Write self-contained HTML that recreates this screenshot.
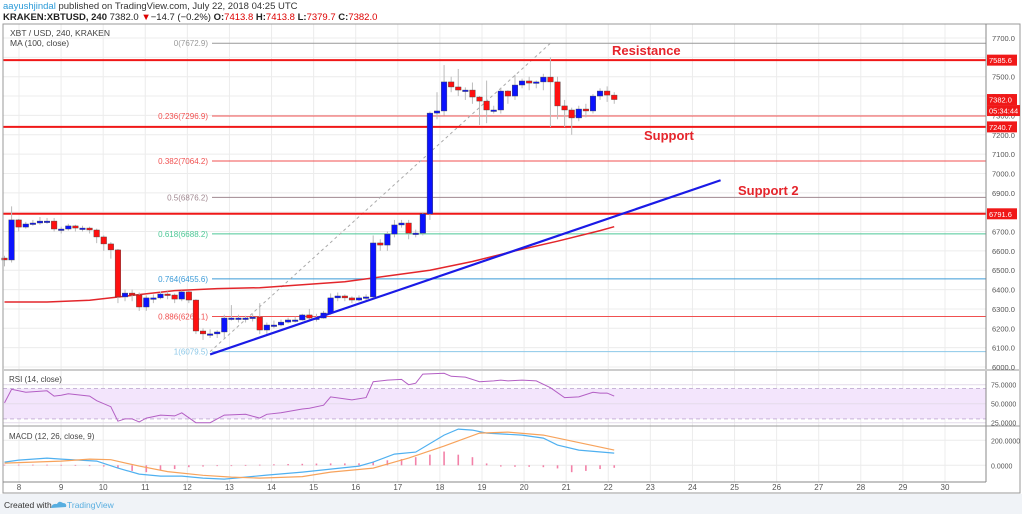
<!DOCTYPE html>
<html><head><meta charset="utf-8"><style>
html,body{margin:0;padding:0;background:#fff;width:1022px;height:514px;overflow:hidden;font-family:"Liberation Sans",sans-serif}
svg text{font-family:"Liberation Sans",sans-serif}
</style></head><body>
<svg id="c" width="1022" height="514" viewBox="0 0 1022 514" xmlns="http://www.w3.org/2000/svg">
<rect x="0" y="0" width="1022" height="514" fill="#fff"/>
<rect x="0" y="494" width="1022" height="20" fill="#f0f3f7"/>
<text x="3" y="9" font-size="9.5" fill="#333"><tspan fill="#2a9ad8">aayushjindal</tspan> published on TradingView.com, July 22, 2018 04:25 UTC</text>
<text x="3" y="20" font-size="9.5" font-weight="bold" fill="#222">KRAKEN:XBTUSD, 240 <tspan font-weight="normal">7382.0</tspan> <tspan fill="#d00">▼</tspan><tspan font-weight="normal">−14.7 (−0.2%) </tspan>O:<tspan fill="#d00" font-weight="normal">7413.8</tspan> H:<tspan fill="#d00" font-weight="normal">7413.8</tspan> L:<tspan fill="#d00" font-weight="normal">7379.7</tspan> C:<tspan fill="#d00" font-weight="normal">7382.0</tspan></text>
<g id="grid"></g>
<g id="main"></g>
<g id="sub"></g>
<rect x="3" y="24" width="1017" height="469" fill="none" stroke="#999" stroke-width="1"/>
<line x1="986" y1="24" x2="986" y2="482" stroke="#888"/>
<line x1="3" y1="482" x2="986" y2="482" stroke="#888"/>
<rect x="3" y="369" width="1017" height="2" fill="#ccc"/>
<line x1="3" y1="426" x2="1020" y2="426" stroke="#999"/>
<text x="10" y="36" font-size="8.5" fill="#444">XBT / USD, 240, KRAKEN</text>
<text x="10" y="46" font-size="8.5" fill="#444">MA (100, close)</text>
<text x="9" y="382" font-size="8" fill="#444">RSI (14, close)</text>
<text x="9" y="439" font-size="8" fill="#444">MACD (12, 26, close, 9)</text>
<text x="612" y="55" font-size="13" font-weight="bold" fill="#e5242b">Resistance</text>
<text x="644" y="140" font-size="13" font-weight="bold" fill="#e5242b">Support</text>
<text x="738" y="195" font-size="13" font-weight="bold" fill="#e5242b">Support 2</text>
<text x="4" y="508" font-size="8.5" fill="#333">Created with</text>
<path d="M51 508 q1-5 6-4 q2-4 6-1 q4 0 3 4 z" fill="#58aee0"/>
<text x="67" y="508" font-size="8.5" fill="#58aee0">TradingView</text>
</svg>
<script>
const closes=[6553,6760,6723,6739,6744,6754,6754,6713,6713,6729,6718,6718,6708,6672,6636,6605,6362,6382,6372,6310,6357,6357,6377,6372,6351,6388,6346,6186,6171,6171,6181,6253,6253,6253,6253,6258,6191,6217,6217,6232,6243,6243,6269,6253,6253,6279,6357,6367,6357,6346,6357,6362,6641,6630,6687,6734,6744,6692,6692,6791,7312,7323,7473,7447,7431,7431,7395,7374,7328,7328,7426,7400,7457,7478,7467,7473,7498,7473,7349,7328,7287,7333,7323,7400,7426,7405,7382];
const highs=[6575,6830,6765,6750,6760,6775,6770,6770,6725,6740,6735,6730,6725,6715,6680,6645,6610,6400,6400,6385,6370,6375,6390,6390,6380,6395,6395,6350,6200,6195,6190,6270,6320,6270,6265,6275,6330,6230,6240,6245,6255,6260,6275,6300,6275,6290,6380,6385,6375,6365,6370,6375,6680,6660,6700,6760,6760,6760,6710,6800,7320,7420,7560,7500,7540,7445,7470,7400,7480,7350,7440,7430,7510,7490,7500,7480,7515,7600,7500,7380,7340,7350,7360,7410,7440,7450,7420];
const lows=[6520,6540,6700,6715,6730,6735,6740,6700,6690,6705,6700,6700,6690,6640,6600,6560,6330,6340,6340,6290,6290,6330,6350,6350,6330,6340,6330,6170,6140,6150,6150,6150,6240,6230,6230,6235,6170,6170,6200,6210,6225,6230,6240,6240,6235,6250,6270,6340,6340,6330,6340,6345,6350,6600,6600,6670,6720,6660,6670,6680,6760,7280,7300,7420,7400,7380,7360,7250,7260,7310,7310,7360,7380,7440,7430,7440,7430,7240,7280,7240,7200,7270,7290,7310,7380,7370,7360];
const firstOpen=6563;
const maIdx=[0,6,12,18,24,30,36,42,48,54,60,66,72,78,84,86];
const maVal=[6336,6336,6345,6370,6395,6405,6410,6425,6440,6470,6500,6545,6600,6650,6705,6725];
const fibLevels=[0,0.236,0.382,0.5,0.618,0.764,0.886,1];
const fibPrices=[7672.9,7296.9,7064.2,6876.2,6688.2,6455.6,6261.1,6079.5];
const fibColors=["#999","#f05050","#f05050","#a08890","#4cc896","#3a9ad8","#f05050","#8cc8e8"];
const redLevels=[7585.6,7240.7,6791.6];
const priceTicks=[6000,6100,6200,6300,6400,6500,6600,6700,6800,6900,7000,7100,7200,7300,7400,7500,7600,7700];
const dayLabels=[8,9,10,11,12,13,14,15,16,17,18,19,20,21,22,23,24,25,26,27,28,29,30];
const trendStart=[29,6065];const trendEnd=[101,6965];
const fibLineStart=[29,6079.5];const fibLineEnd=[77,7672.9];
const rsiIdx=[0,1,3,6,7,8,9,12,13,15,16,17,18,19,20,22,24,25,27,29,31,34,36,37,39,42,43,45,46,49,51,52,54,56,57,58,59,62,63,65,67,69,70,71,73,75,77,79,81,83,84,85,86];
const rsiVal=[51,69,65,67,60,61,63,60,54,46,27,30,30,26,31,35,34,38,25,25,35,36,31,36,38,43,44,48,59,55,58,79,81,82,75,77,89,90,86,85,79,80,81,80,81,80,71,58,59,65,64,64,60];
const macdIdx=[0,2,6,8,13,16,19,22,25,28,31,34,37,42,46,50,52,55,58,62,64,66,68,73,76,78,81,86];
const macdVal=[26,42,58,50,34,-22,-70,-86,-86,-102,-110,-94,-78,-54,-30,-6,26,90,106,242,290,282,258,242,218,162,122,98];
const sigIdx=[0,8,12,15,19,23,28,32,36,42,46,52,57,62,67,71,76,80,86];
const sigVal=[18,34,50,45,-6,-50,-80,-94,-102,-90,-54,-22,58,154,258,266,242,194,122];
const histVal=[5,5,5,5,4,3,0,-10,-25,-45,-55,-40,-30,-15,-10,-5,-3,3,5,8,10,12,14,15,15,16,28,40,50,65,85,110,85,65,15,-10,-12,-12,-15,-25,-55,-45,-30,-20];

const NS="http://www.w3.org/2000/svg";
const X0=4.5,STEP=7.09;
const xi=i=>X0+i*STEP;
const yP=p=>38+(7700-p)*0.19353;
const yR=v=>403.7-(v-50)*0.76;
const yM=v=>465.3-v*0.125;
const xd=d=>19+(d-8)*42.09;
function mk(tag,attrs,parent){const e=document.createElementNS(NS,tag);for(const k in attrs)e.setAttribute(k,attrs[k]);parent.appendChild(e);return e;}
const grid=document.getElementById('grid'),main=document.getElementById('main'),sub=document.getElementById('sub'),svg=document.getElementById('c');

dayLabels.forEach(d=>{
 const l=mk('line',{x1:xd(d),y1:24,x2:xd(d),y2:482,stroke:'#ececec'},grid);
 
 
 const t=mk('text',{x:xd(d),y:490,'font-size':8,fill:'#555','text-anchor':'middle'},svg);
 t.textContent=d;
 
 
});
priceTicks.forEach(p=>{
 const l=mk('line',{x1:3,y1:yP(p),x2:986,y2:yP(p),stroke:'#ececec'},grid);
 
 
 const t=mk('text',{x:992,y:yP(p)+3,'font-size':7.5,fill:'#555'},svg);
 t.textContent=p.toFixed(1);
 
 
});
const band=mk('rect',{x:3,y:yR(70),width:983,height:yR(30)-yR(70),fill:'#f3e5fc'},grid);


[70,30].forEach(v=>{const l=mk('line',{x1:3,y1:yR(v),x2:986,y2:yR(v),stroke:'#c8b4d8','stroke-dasharray':'4,3'},grid);
 
 });
[75,50,25].forEach(v=>{const l=mk('line',{x1:3,y1:yR(v),x2:986,y2:yR(v),stroke:'#e4dcea'},grid);
 
 
 const t=mk('text',{x:991,y:yR(v)+3,'font-size':7,fill:'#555'},svg);t.textContent=v.toFixed(4);
 
 });
[200,0].forEach(v=>{const l=mk('line',{x1:3,y1:yM(v),x2:986,y2:yM(v),stroke:'#ececec'},grid);
 
 
 const t=mk('text',{x:991,y:yM(v)+3,'font-size':7,fill:'#555'},svg);t.textContent=v.toFixed(4);
 
 });

fibPrices.forEach((p,k)=>{
 const l=mk('line',{x1:212,y1:yP(p),x2:986,y2:yP(p),stroke:fibColors[k],'stroke-width':1},main);
 
 
 const t=mk('text',{x:208,y:yP(p)+3,'font-size':8,fill:fibColors[k],'text-anchor':'end'},main);
 t.textContent=fibLevels[k]+'('+p.toFixed(1)+')';
 
 
});
const fd=mk('line',{x1:xi(fibLineStart[0]),y1:yP(fibLineStart[1]),x2:xi(fibLineEnd[0]),y2:yP(fibLineEnd[1]),stroke:'#aaa','stroke-dasharray':'3,3'},main);


redLevels.forEach(p=>{
 const l=mk('line',{x1:3,y1:yP(p),x2:986,y2:yP(p),stroke:'#f01818','stroke-width':2},main);
 
 
});
let d='';maIdx.forEach((i,k)=>{d+=(k?'L':'M')+xi(i).toFixed(1)+' '+yP(maVal[k]).toFixed(1);});
const ma=mk('path',{d:d,fill:'none',stroke:'#e3262b','stroke-width':1.5},main);


closes.forEach((c,i)=>{
 const o=i===0?firstOpen:closes[i-1];
 const x=xi(i),up=c>=o,col=up?'#0a12ff':'#ff1010';
 const w=mk('line',{x1:x,y1:yP(highs[i]),x2:x,y2:yP(lows[i]),stroke:'#bbb'},main);
 
 
 const top=yP(Math.max(o,c)),h=Math.max(1.5,yP(Math.min(o,c))-top);
 const b=mk('rect',{x:x-2.8,y:top,width:5.6,height:h,fill:col,stroke:'#444','stroke-width':0.4},main);
 
 
});
const tl=mk('line',{x1:xi(trendStart[0]),y1:yP(trendStart[1]),x2:xi(trendEnd[0]),y2:yP(trendEnd[1]),stroke:'#1a1ae6','stroke-width':2.2},main);


function badge(p,txt,name,dy){
 const y=yP(p)+(dy||0);
 const r=mk('rect',{x:987,y:y-5.5,width:txt.length>6?33:30,height:11,fill:'#f01818'},svg);
 
 
 const t=mk('text',{x:989,y:y+3,'font-size':7.5,fill:'#fff'},svg);t.textContent=txt;
 
 
}
redLevels.forEach(p=>badge(p,p.toFixed(1),'level-badge'));
badge(closes[closes.length-1],closes[closes.length-1].toFixed(1),'last-price-badge');
badge(closes[closes.length-1],'05:34:44','countdown-badge',11);
d='';rsiIdx.forEach((i,k)=>{d+=(k?'L':'M')+xi(i).toFixed(1)+' '+yR(rsiVal[k]).toFixed(1);});
const rl=mk('path',{d:d,fill:'none',stroke:'#b35ec4','stroke-width':1},sub);


histVal.forEach((v,k)=>{
 const x=xi(k*2),y0=yM(0),y1=yM(v);
 const b=mk('rect',{x:x-0.8,y:Math.min(y0,y1),width:1.6,height:Math.max(0.8,Math.abs(y1-y0)),fill:'#f06292',opacity:0.8},sub);
 
 
});
d='';macdIdx.forEach((i,k)=>{d+=(k?'L':'M')+xi(i).toFixed(1)+' '+yM(macdVal[k]).toFixed(1);});
const ml=mk('path',{d:d,fill:'none',stroke:'#4fb0f0','stroke-width':1.2},sub);


d='';sigIdx.forEach((i,k)=>{d+=(k?'L':'M')+xi(i).toFixed(1)+' '+yM(sigVal[k]).toFixed(1);});
const sl=mk('path',{d:d,fill:'none',stroke:'#f7a35c','stroke-width':1.2},sub);


</script>
</body></html>
